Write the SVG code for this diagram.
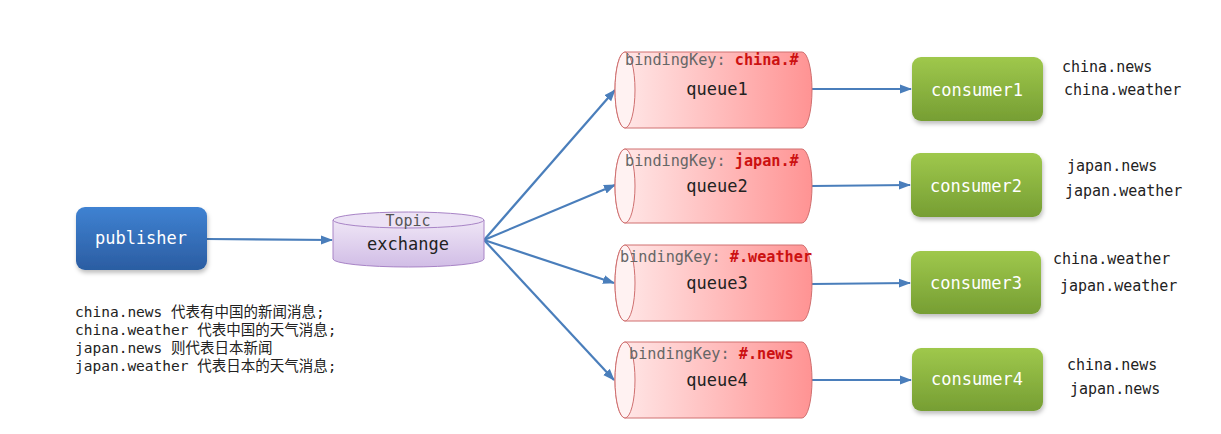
<svg xmlns="http://www.w3.org/2000/svg" width="1221" height="434" viewBox="0 0 1221 434">
<defs>
<linearGradient id="gPub" x1="0" y1="0" x2="0" y2="1"><stop offset="0" stop-color="#3f82d2"/><stop offset="1" stop-color="#2b5da2"/></linearGradient>
<linearGradient id="gCon" x1="0" y1="0" x2="0" y2="1"><stop offset="0" stop-color="#9fc84c"/><stop offset="1" stop-color="#769e33"/></linearGradient>
<linearGradient id="gEx" x1="0" y1="0" x2="0" y2="1"><stop offset="0" stop-color="#efe6f6"/><stop offset="1" stop-color="#d1bde6"/></linearGradient>
<linearGradient id="gQ" x1="0" y1="0" x2="1" y2="0"><stop offset="0" stop-color="#ffeaea"/><stop offset="1" stop-color="#ff9393"/></linearGradient>
<filter id="sh" x="-10%" y="-10%" width="130%" height="140%"><feDropShadow dx="1" dy="3" stdDeviation="2" flood-color="#000" flood-opacity="0.25"/></filter>
<marker id="ah" markerWidth="12" markerHeight="10" refX="11" refY="5" orient="auto" markerUnits="userSpaceOnUse"><path d="M0,0.5 L12,5 L0,9.5 Z" fill="#4a7ebb"/></marker>
<style>
.mono{font-family:"DejaVu Sans Mono","Liberation Mono","Noto Sans CJK SC",monospace;}
.note{font-family:"DejaVu Sans Mono","Liberation Mono","Noto Sans CJK SC",monospace;font-size:14.5px;fill:#222;}
.lbl{font-family:"DejaVu Sans Mono","Liberation Mono",monospace;font-size:15px;fill:#222;}
.wt{font-family:"DejaVu Sans Mono","Liberation Mono",monospace;font-size:17px;fill:#fff;text-anchor:middle;}
.qn{font-family:"DejaVu Sans Mono","Liberation Mono",monospace;font-size:17px;fill:#222;text-anchor:middle;}
.bk{font-family:"DejaVu Sans Mono","Liberation Mono",monospace;font-size:15.2px;fill:#666;}
.kv{fill:#cc1111;font-weight:bold;}
.qbody{fill:url(#gQ);stroke:#d07070;stroke-width:1;}
.qend{fill:#fff2f2;stroke:#d07070;stroke-width:1;}
.con{fill:url(#gCon);filter:url(#sh);}
.conn{stroke:#4a7ebb;stroke-width:2.2;fill:none;marker-end:url(#ah);}
</style>
</defs>
<rect width="1221" height="434" fill="#fff"/>

<g id="connectors">
<line class="conn" x1="207" y1="239" x2="332" y2="240"/>
<line class="conn" x1="484" y1="240" x2="615" y2="90"/>
<line class="conn" x1="484" y1="240" x2="615" y2="185"/>
<line class="conn" x1="484" y1="240" x2="614" y2="283"/>
<line class="conn" x1="484" y1="240" x2="614" y2="380"/>
<line class="conn" x1="812" y1="89" x2="911" y2="89"/>
<line class="conn" x1="812" y1="186" x2="910" y2="185"/>
<line class="conn" x1="812" y1="284" x2="910" y2="283"/>
<line class="conn" x1="812" y1="380" x2="911" y2="380"/>
</g>

<g id="publisher">
<rect x="76" y="207" width="131" height="63" rx="9" fill="url(#gPub)" filter="url(#sh)"/>
<text class="wt" x="141" y="244">publisher</text>
</g>

<g id="exchange">
<path d="M333,220 L333,259 A75.5,8 0 0 0 484,259 L484,220 Z" fill="url(#gEx)" stroke="#a884c6" stroke-width="1"/>
<ellipse cx="408.5" cy="220" rx="75.5" ry="8" fill="#ece2f5" stroke="#a884c6" stroke-width="1"/>
<text class="mono" x="408" y="226" font-size="15" fill="#555" text-anchor="middle">Topic</text>
<text class="qn" x="408" y="250">exchange</text>
</g>

<g id="queue1">
<path class="qbody" d="M625,52 L802,52 A10,38 0 0 1 802,128 L625,128 A10,38 0 0 1 625,52 Z"/>
<ellipse class="qend" cx="625" cy="90" rx="10" ry="38"/>
<text class="bk" x="625" y="65">bindingKey: <tspan class="kv">china.#</tspan></text>
<text class="qn" x="717" y="95">queue1</text>
</g>

<g id="queue2">
<path class="qbody" d="M625,149 L802,149 A10,37 0 0 1 802,223 L625,223 A10,37 0 0 1 625,149 Z"/>
<ellipse class="qend" cx="625" cy="186" rx="10" ry="37"/>
<text class="bk" x="625" y="166">bindingKey: <tspan class="kv">japan.#</tspan></text>
<text class="qn" x="717" y="192">queue2</text>
</g>

<g id="queue3">
<path class="qbody" d="M625,245 L802,245 A10,38 0 0 1 802,321 L625,321 A10,38 0 0 1 625,245 Z"/>
<ellipse class="qend" cx="625" cy="283" rx="10" ry="38"/>
<text class="bk" x="620" y="262">bindingKey: <tspan class="kv">#.weather</tspan></text>
<text class="qn" x="717" y="289">queue3</text>
</g>

<g id="queue4">
<path class="qbody" d="M625,342 L802,342 A10,38 0 0 1 802,418 L625,418 A10,38 0 0 1 625,342 Z"/>
<ellipse class="qend" cx="625" cy="380" rx="10" ry="38"/>
<text class="bk" x="629" y="359">bindingKey: <tspan class="kv">#.news</tspan></text>
<text class="qn" x="717" y="386">queue4</text>
</g>

<g id="consumer1">
<rect class="con" x="912" y="57" width="131" height="64" rx="9"/>
<text class="wt" x="977" y="96">consumer1</text>
</g>
<g id="consumer2">
<rect class="con" x="911" y="153" width="131" height="64" rx="9"/>
<text class="wt" x="976" y="192">consumer2</text>
</g>
<g id="consumer3">
<rect class="con" x="911" y="251" width="130" height="63" rx="9"/>
<text class="wt" x="976" y="289">consumer3</text>
</g>
<g id="consumer4">
<rect class="con" x="912" y="348" width="131" height="63" rx="9"/>
<text class="wt" x="977" y="385">consumer4</text>
</g>

<g id="labels">
<text class="lbl" x="1062" y="72">china.news</text>
<text class="lbl" x="1064" y="95">china.weather</text>
<text class="lbl" x="1067" y="171">japan.news</text>
<text class="lbl" x="1065" y="196">japan.weather</text>
<text class="lbl" x="1053" y="264">china.weather</text>
<text class="lbl" x="1060" y="291">japan.weather</text>
<text class="lbl" x="1067" y="370">china.news</text>
<text class="lbl" x="1070" y="394">japan.news</text>
</g>

<g id="notes">
<text class="note" x="75" y="317">china.news 代表有中国的新闻消息;</text>
<text class="note" x="75" y="335">china.weather 代表中国的天气消息;</text>
<text class="note" x="75" y="353">japan.news 则代表日本新闻</text>
<text class="note" x="75" y="371">japan.weather 代表日本的天气消息;</text>
</g>
</svg>
